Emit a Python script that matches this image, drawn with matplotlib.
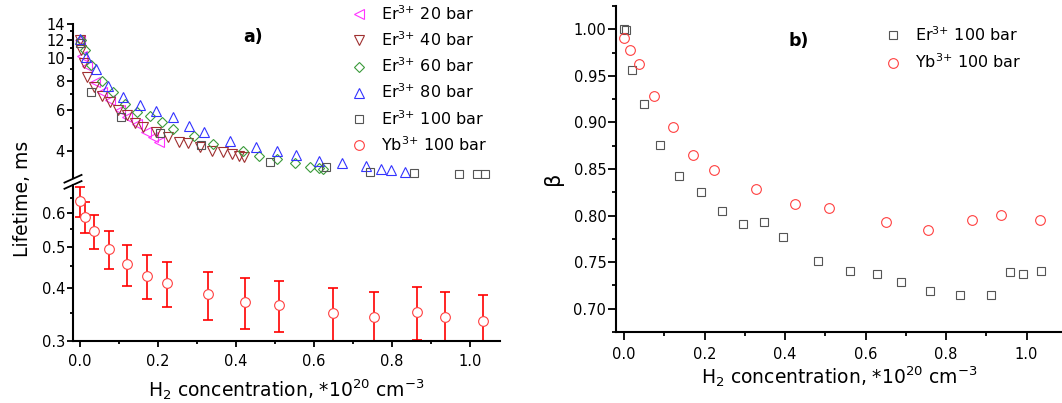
import matplotlib
matplotlib.use('Agg')
import matplotlib.pyplot as plt
from matplotlib.ticker import FixedLocator, FormatStrFormatter, NullFormatter, MultipleLocator

# panel a) lifetimes, ms
x_er20 = [0.0, 0.004, 0.019, 0.038, 0.056, 0.077, 0.103, 0.121, 0.145, 0.169, 0.188, 0.203]
tau_er20 = [12.0, 10.2, 9.2, 7.9, 7.17, 6.6, 5.98, 5.57, 5.2, 4.83, 4.59, 4.37]

x_er40 = [0.0, 0.003, 0.009, 0.019, 0.037, 0.056, 0.077, 0.098, 0.120, 0.141, 0.161,
          0.195, 0.225, 0.253, 0.278, 0.308, 0.338, 0.366, 0.389, 0.408, 0.421]
tau_er40 = [12.0, 10.8, 9.5, 8.3, 7.54, 6.9, 6.46, 5.98, 5.7, 5.25, 5.07,
            4.83, 4.57, 4.37, 4.3, 4.16, 4.0, 3.96, 3.87, 3.8, 3.77]

x_er60 = [0.003, 0.013, 0.027, 0.056, 0.085, 0.115, 0.147, 0.179, 0.211, 0.239,
          0.292, 0.340, 0.417, 0.458, 0.505, 0.551, 0.589, 0.612, 0.623]
tau_er60 = [12.0, 10.8, 9.35, 7.98, 7.17, 6.35, 5.88, 5.62, 5.31, 4.94,
            4.6, 4.29, 4.0, 3.8, 3.67, 3.53, 3.41, 3.36, 3.33]

x_er80 = [0.0, 0.015, 0.041, 0.073, 0.111, 0.154, 0.194, 0.238, 0.279, 0.318,
          0.385, 0.452, 0.506, 0.554, 0.613, 0.671, 0.733, 0.771, 0.797, 0.834]
tau_er80 = [12.05, 10.1, 8.98, 7.6, 6.8, 6.3, 5.94, 5.57, 5.11, 4.83,
            4.39, 4.14, 4.0, 3.82, 3.62, 3.54, 3.43, 3.32, 3.3, 3.24]

x_er100 = [0.0, 0.027, 0.104, 0.205, 0.310, 0.486, 0.632, 0.744, 0.856, 0.972, 1.017, 1.039]
tau_er100 = [11.65, 7.13, 5.58, 4.75, 4.22, 3.57, 3.39, 3.23, 3.2, 3.18, 3.17, 3.17]

x_yb = [0.0, 0.014, 0.037, 0.075, 0.121, 0.171, 0.224, 0.328, 0.424, 0.510,
        0.650, 0.754, 0.864, 0.937, 1.034]
tau_yb = [0.64, 0.588, 0.544, 0.494, 0.455, 0.427, 0.41, 0.386, 0.371, 0.365,
          0.349, 0.342, 0.351, 0.341, 0.334]
err_yb = [0.052, 0.05, 0.05, 0.05, 0.05, 0.05, 0.05, 0.05, 0.05, 0.05,
          0.05, 0.05, 0.05, 0.05, 0.05]

# panel b) stretch exponent beta
x_er_b = [0.0, 0.005, 0.020, 0.050, 0.089, 0.137, 0.190, 0.243, 0.296, 0.347, 0.396,
          0.483, 0.561, 0.629, 0.688, 0.761, 0.835, 0.912, 0.959, 0.990, 1.035]
beta_er = [1.000, 0.999, 0.956, 0.920, 0.876, 0.843, 0.825, 0.805, 0.791, 0.793, 0.777,
           0.751, 0.741, 0.737, 0.729, 0.719, 0.715, 0.715, 0.739, 0.737, 0.741]
beta_yb = [0.991, 0.978, 0.963, 0.928, 0.895, 0.865, 0.849, 0.829, 0.812, 0.808,
           0.793, 0.784, 0.795, 0.801, 0.795]

xlabel = r'H$_2$ concentration, *10$^{20}$ cm$^{-3}$'

plt.rcParams['font.family'] = 'DejaVu Sans'
plt.rcParams['mathtext.fontset'] = 'dejavusans'

fig = plt.figure(figsize=(10.62, 4.03), dpi=100)
W, H = 1062.0, 403.0


def box(l, t, r, b):
    return [l / W, 1 - b / H, (r - l) / W, (b - t) / H]


def style(ax, major=4.3, minor=2.5):
    for s in ['top', 'right']:
        ax.spines[s].set_visible(False)
    for s in ['left', 'bottom']:
        ax.spines[s].set_linewidth(1.5)
    ax.tick_params(which='both', direction='out', width=1.3, labelsize=10.5)
    ax.tick_params(which='major', length=major)
    ax.tick_params(which='minor', length=minor)
    ax.tick_params(axis='y', pad=1.5)
    ax.tick_params(axis='x', pad=5)


def ion(el, p):
    return el + r'$^{3{+}}$ ' + p + ' bar'


ax_top = fig.add_axes(box(73, 24, 500, 178))
ax_bot = fig.add_axes(box(73, 185, 500, 341), sharex=ax_top)
ax_b = fig.add_axes(box(616, 6, 1062, 332))

mk = dict(linestyle='none', fillstyle='none', markeredgewidth=0.8)
ax_top.plot(x_er20, tau_er20, marker='<', ms=7, color='#ff33ff', label=ion('Er', '20'), **mk)
ax_top.plot(x_er40, tau_er40, marker='v', ms=7, color='#a03030', label=ion('Er', '40'), **mk)
ax_top.plot(x_er60, tau_er60, marker='D', ms=5.5, color='#3a9a3a', label=ion('Er', '60'), **mk)
ax_top.plot(x_er80, tau_er80, marker='^', ms=7, color='#3333ff', label=ion('Er', '80'), **mk)
ax_top.plot(x_er100, tau_er100, marker='s', ms=5.5, color='#555555', label=ion('Er', '100'), **mk)

ax_bot.errorbar(x_yb, tau_yb, yerr=err_yb, fmt='none', ecolor='red',
                elinewidth=1.2, capsize=3.5, capthick=1.2)
yb_line, = ax_bot.plot(x_yb, tau_yb, marker='o', ms=7, linestyle='none',
                       markerfacecolor='white', markeredgecolor='#ff4040',
                       markeredgewidth=0.8, label=ion('Yb', '100'))

ax_top.set_yscale('log')
ax_bot.set_yscale('log')
ax_top.set_ylim(3.05, 14)
ax_bot.set_ylim(0.3, 0.698)
ax_top.set_xlim(-0.018, 1.077)

ax_top.yaxis.set_major_locator(FixedLocator([4, 6, 8, 10, 12, 14]))
ax_top.yaxis.set_minor_locator(FixedLocator([5, 7, 9, 11, 13]))
ax_top.yaxis.set_major_formatter(FormatStrFormatter('%d'))
ax_top.yaxis.set_minor_formatter(NullFormatter())
ax_bot.yaxis.set_major_locator(FixedLocator([0.3, 0.4, 0.5, 0.6]))
ax_bot.yaxis.set_minor_locator(FixedLocator([0.35, 0.45, 0.55, 0.65]))
ax_bot.yaxis.set_major_formatter(FormatStrFormatter('%.1f'))
ax_bot.yaxis.set_minor_formatter(NullFormatter())
ax_bot.xaxis.set_major_locator(MultipleLocator(0.2))
ax_bot.xaxis.set_minor_locator(MultipleLocator(0.1))
ax_bot.xaxis.set_major_formatter(FormatStrFormatter('%.1f'))

style(ax_top)
style(ax_bot)
ax_top.spines['bottom'].set_visible(False)
ax_top.tick_params(axis='x', which='both', bottom=False, labelbottom=False)

# axis break marks
for yy in (-0.005, -0.045):
    ax_top.plot([-0.02, 0.02], [yy - 0.025, yy + 0.025], transform=ax_top.transAxes,
                color='black', lw=1.3, clip_on=False)

ax_bot.set_xlabel(xlabel, fontsize=13.5, labelpad=6)
fig.text(23 / W, 1 - 199 / H, 'Lifetime, ms', rotation=90, fontsize=13.5,
         ha='center', va='center')
fig.text(253 / W, 1 - 37 / H, 'a)', fontsize=12.5, fontweight='bold', ha='center', va='center')

handles, labels = ax_top.get_legend_handles_labels()
handles.append(yb_line)
labels.append(ion('Yb', '100'))
ax_top.legend(handles, labels, loc='upper left', bbox_to_anchor=(351 / W, 1 - 4 / H),
              bbox_transform=fig.transFigure, frameon=False, fontsize=11.5,
              handlelength=1.0, handletextpad=0.9, labelspacing=0.47,
              borderpad=0, borderaxespad=0, numpoints=1)

# panel b)
ax_b.plot(x_er_b, beta_er, marker='s', ms=5.5, color='#555555', label=ion('Er', '100'), **mk)
ax_b.plot(x_yb, beta_yb, marker='o', ms=7, color='#ff4040', label=ion('Yb', '100'), **mk)
ax_b.set_xlim(-0.02, 1.088)
ax_b.set_ylim(0.675, 1.025)
ax_b.xaxis.set_major_locator(MultipleLocator(0.2))
ax_b.xaxis.set_minor_locator(MultipleLocator(0.1))
ax_b.xaxis.set_major_formatter(FormatStrFormatter('%.1f'))
ax_b.yaxis.set_major_locator(MultipleLocator(0.05))
ax_b.yaxis.set_minor_locator(MultipleLocator(0.025))
ax_b.yaxis.set_major_formatter(FormatStrFormatter('%.2f'))
style(ax_b, major=5.5, minor=3)
ax_b.set_xlabel(xlabel, fontsize=13.5, labelpad=2)
ax_b.set_ylabel('β', fontsize=15)
ax_b.yaxis.set_label_coords(-0.118, 0.47)
fig.text(799 / W, 1 - 41 / H, 'b)', fontsize=12.5, fontweight='bold', ha='center', va='center')
ax_b.legend(loc='upper left', bbox_to_anchor=(885 / W, 1 - 25 / H),
            bbox_transform=fig.transFigure, frameon=False, fontsize=11.5,
            handlelength=1.0, handletextpad=0.9, labelspacing=0.55,
            borderpad=0, borderaxespad=0, numpoints=1)

fig.savefig('out.png', dpi=100)
